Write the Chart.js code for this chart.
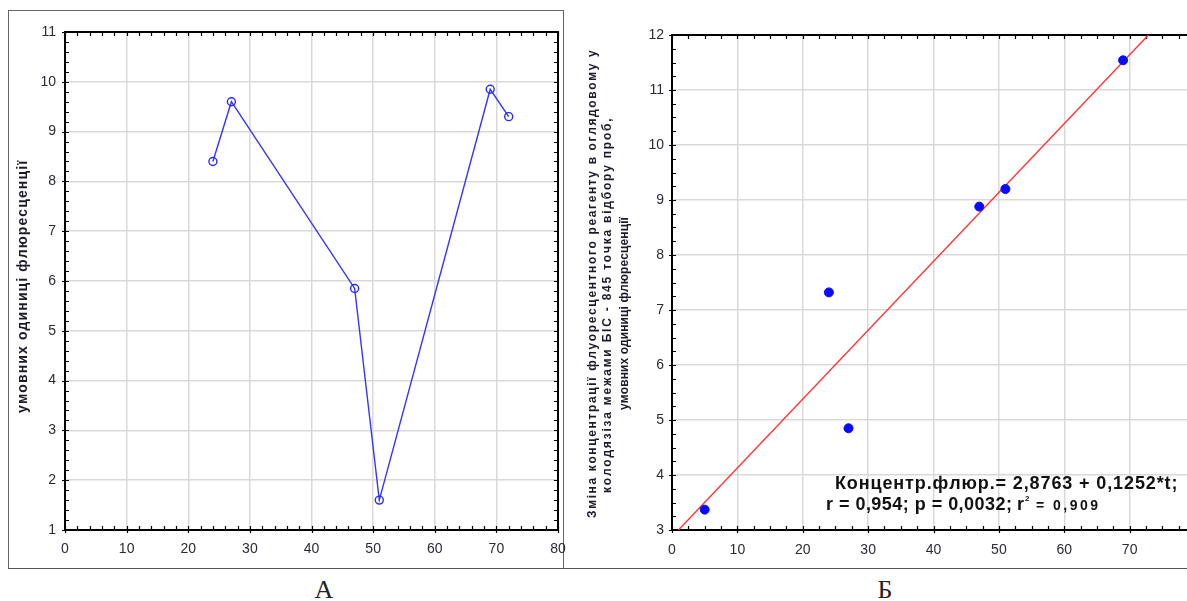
<!DOCTYPE html>
<html>
<head>
<meta charset="utf-8">
<script src="https://cdn.jsdelivr.net/npm/chart.js@4.4.1/dist/chart.umd.min.js"></script>
<style>
  body { margin: 0; width: 1187px; height: 601px; overflow: hidden; background: #fff; position: relative; }
  #frameA { position: absolute; left: 8px; top: 10px; width: 554px; height: 557px; border: 1px solid #666; }
  #baseLine { position: absolute; left: 8px; top: 568px; width: 1179px; border-top: 1px solid #555; }
  #wrapA { position: absolute; left: 0; top: 0; width: 570px; height: 560px; }
  #wrapB { position: absolute; left: 580px; top: 0; width: 630px; height: 560px; }
  .cap { position: absolute; top: 577px; font: 26px/26px "Liberation Serif", "DejaVu Serif", serif; color: #222; transform: translateX(-50%); }
</style>
</head>
<body>
<div id="frameA"></div>
<div id="baseLine"></div>
<div id="wrapA"><canvas id="chartA"></canvas></div>
<div id="wrapB"><canvas id="chartB"></canvas></div>
<div class="cap" style="left:324px">А</div>
<div class="cap" style="left:885px">Б</div>

<script>
// panel A: time point vs fluorescence
var tA = [24, 27, 47, 51, 69, 72];
var fluorA = [8.4, 9.6, 5.85, 1.6, 9.85, 9.3];

// panel B: scatter + linear fit
var tB = [5, 24, 27, 47, 51, 69];
var fluorB = [3.37, 7.32, 4.85, 8.88, 9.2, 11.54];
var fitIntercept = 2.8763;
var fitSlope = 0.1252;
var fitT = [0, 80];

var xRangeA = [0, 80], yRangeA = [1, 11];
var xRangeB = [0, 80], yRangeB = [3, 12];

var tickFont = { family: "'Liberation Sans', Arial, sans-serif", size: 14 };
var tickColor = '#2a2a3a';
var gridColor = '#d9d9d9';

// draw text spread out to a given length (letters only, no data)
function spacedText(ctx, t) {
  ctx.save();
  ctx.font = t.font;
  ctx.fillStyle = t.color || '#111';
  ctx.textBaseline = 'alphabetic';
  ctx.translate(t.x, t.y);
  if (t.rot) ctx.rotate(-Math.PI / 2);
  var chars = Array.from(t.text);
  var natural = ctx.measureText(t.text).width;
  var extra = t.w ? (t.w - natural) / Math.max(1, chars.length - 1) : 0;
  var pos = 0;
  chars.forEach(function(c) {
    ctx.fillText(c, pos, 0);
    pos += ctx.measureText(c).width + extra;
  });
  ctx.restore();
}

var deco = {
  id: 'deco',
  beforeDatasetsDraw: function(chart, args, o) {
    var ctx = chart.ctx, a = chart.chartArea, x = chart.scales.x, y = chart.scales.y;
    ctx.save();
    ctx.strokeStyle = '#000';
    ctx.lineWidth = 1.2;
    ctx.beginPath();
    var v, p;
    for (v = x.min; v <= x.max + 1e-9; v += o.xMinor) {
      p = Math.round(x.getPixelForValue(v)) + 0.5;
      ctx.moveTo(p, a.bottom); ctx.lineTo(p, a.bottom - 4);
      ctx.moveTo(p, a.top); ctx.lineTo(p, a.top + 4);
    }
    for (v = y.min; v <= y.max + 1e-9; v += o.yMinor) {
      p = Math.round(y.getPixelForValue(v)) + 0.5;
      ctx.moveTo(a.left, p); ctx.lineTo(a.left + 4, p);
      ctx.moveTo(a.right, p); ctx.lineTo(a.right - 4, p);
    }
    x.ticks.forEach(function(t) {
      p = Math.round(x.getPixelForValue(t.value)) + 0.5;
      ctx.moveTo(p, a.bottom); ctx.lineTo(p, a.bottom + 3);
    });
    y.ticks.forEach(function(t) {
      p = Math.round(y.getPixelForValue(t.value)) + 0.5;
      ctx.moveTo(a.left, p); ctx.lineTo(a.left - 3, p);
    });
    ctx.stroke();
    ctx.lineWidth = 2;
    ctx.strokeRect(a.left, a.top, a.right - a.left, a.bottom - a.top);
    ctx.restore();
  },
  afterDraw: function(chart, args, o) {
    var dx = chart.canvas.parentNode.offsetLeft;
    (o.texts || []).forEach(function(t) {
      spacedText(chart.ctx, Object.assign({}, t, { x: t.x - dx }));
    });
  }
};

function scaleOpts(range, step, width, height, pad) {
  return {
    type: 'linear', min: range[0], max: range[1],
    grid: { color: gridColor, lineWidth: 1.5, drawTicks: false },
    border: { display: false },
    ticks: { stepSize: step, font: tickFont, color: tickColor, padding: pad, maxRotation: 0, autoSkip: false },
    afterFit: function(s) {
      if (width) s.width = width;
      if (height) s.height = height;
      s.paddingLeft = 0; s.paddingRight = 0; s.paddingTop = 0; s.paddingBottom = 0;
    }
  };
}

var bold = "bold {s}px 'Liberation Sans', Arial, sans-serif";
function f(s) { return bold.replace('{s}', s); }

new Chart(document.getElementById('chartA'), {
  type: 'scatter',
  data: {
    datasets: [{
      data: tA.map(function(t, i) { return { x: t, y: fluorA[i] }; }),
      showLine: true,
      borderColor: '#3535ff',
      borderWidth: 1.4,
      pointRadius: 4,
      pointBorderWidth: 1.4,
      pointBorderColor: '#2a2aff',
      pointBackgroundColor: 'rgba(255,255,255,0)'
    }]
  },
  options: {
    responsive: true, maintainAspectRatio: false, animation: false,
    layout: { padding: { left: 0, right: 12, top: 32, bottom: 0 } },
    scales: {
      x: scaleOpts(xRangeA, 10, 0, 30, 11),
      y: scaleOpts(yRangeA, 1, 65, 0, 9)
    },
    plugins: {
      legend: { display: false }, tooltip: { enabled: false },
      deco: {
        xMinor: 2, yMinor: 0.2,
        texts: [
          { text: 'умовних одиниці флюресценції', x: 27, y: 413, w: 251, rot: true, font: f(14), color: '#1a1a2a' }
        ]
      }
    }
  },
  plugins: [deco]
});

new Chart(document.getElementById('chartB'), {
  type: 'scatter',
  data: {
    datasets: [{
      data: tB.map(function(t, i) { return { x: t, y: fluorB[i] }; }),
      pointRadius: 4.5,
      pointBorderWidth: 1,
      pointBorderColor: '#0a0aff',
      pointBackgroundColor: '#0a0aff'
    }, {
      data: fitT.map(function(t) { return { x: t, y: fitIntercept + fitSlope * t }; }),
      showLine: true,
      borderColor: '#ff3535',
      borderWidth: 1.4,
      pointRadius: 0,
      clip: 0
    }]
  },
  options: {
    responsive: true, maintainAspectRatio: false, animation: false,
    layout: { padding: { left: 0, right: 15, top: 35, bottom: 0 } },
    scales: {
      x: scaleOpts(xRangeB, 10, 0, 30, 12),
      y: scaleOpts(yRangeB, 1, 92, 0, 8)
    },
    plugins: {
      legend: { display: false }, tooltip: { enabled: false },
      deco: {
        xMinor: 2.5, yMinor: 0.25,
        texts: [
          { text: 'Зміна концентрації флуоресцентного реагенту в оглядовому у', x: 596, y: 518, w: 466, rot: true, font: f(12), color: '#1a1a2a' },
          { text: 'колодязіза межами БІС - 845 точка відбору проб,', x: 611, y: 493, w: 373, rot: true, font: f(12), color: '#1a1a2a' },
          { text: 'умовних одиниці флюресценції', x: 628, y: 410, w: 192, rot: true, font: f(12), color: '#1a1a2a' },
          { text: 'Концентр.флюр.= 2,8763 + 0,1252*t;', x: 835, y: 489, w: 342, font: f(18), color: '#111' },
          { text: 'r = 0,954; p = 0,0032;', x: 826, y: 510, w: 186, font: f(18), color: '#111' },
          { text: 'r', x: 1017, y: 510, font: f(18), color: '#111' },
          { text: '2', x: 1025, y: 501, font: f(8), color: '#111' },
          { text: '= 0,909', x: 1036, y: 510, w: 62, font: f(14), color: '#111' }
        ]
      }
    }
  },
  plugins: [deco]
});
</script>
</body>
</html>
